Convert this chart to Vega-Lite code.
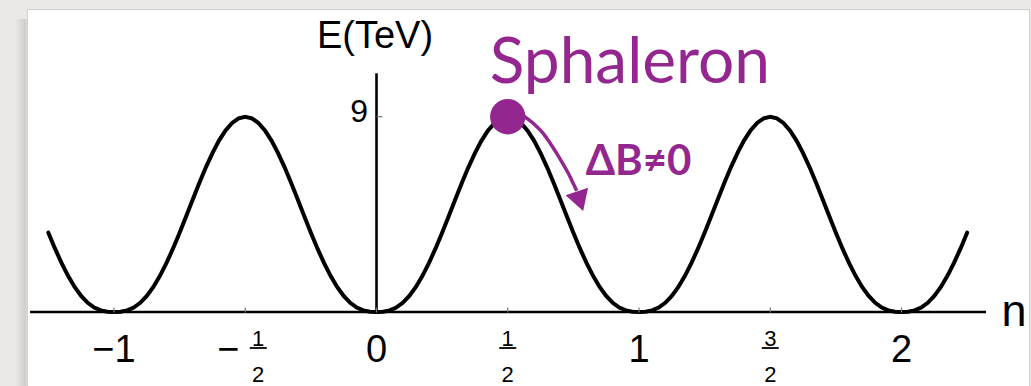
{
  "$schema": "https://vega.github.io/schema/vega-lite/v6.json",
  "width": 1002,
  "height": 377,
  "autosize": {"type": "none"},
  "padding": {"left": 27, "top": 9, "right": 2, "bottom": 0},
  "background": "#eae9e6",
  "config": {
    "view": {"fill": "white", "stroke": "#cfcfcf", "strokeWidth": 1},
    "text": {"font": "Liberation Sans", "color": "black"}
  },
  "data": {"values": [{}]},
  "datasets": {
    "curve": [
      {"n": -1.25, "E": 3.655}, {"n": -1.225, "E": 2.93}, {"n": -1.2, "E": 2.261}, {"n": -1.175, "E": 1.664},
      {"n": -1.15, "E": 1.155}, {"n": -1.125, "E": 0.741}, {"n": -1.1, "E": 0.425}, {"n": -1.075, "E": 0.205},
      {"n": -1.05, "E": 0.072}, {"n": -1.025, "E": 0.012}, {"n": -1.0, "E": 0},
      {"n": -0.975, "E": 0.012}, {"n": -0.95, "E": 0.072}, {"n": -0.925, "E": 0.205}, {"n": -0.9, "E": 0.425},
      {"n": -0.875, "E": 0.741}, {"n": -0.85, "E": 1.155}, {"n": -0.825, "E": 1.664}, {"n": -0.8, "E": 2.261},
      {"n": -0.775, "E": 2.93}, {"n": -0.75, "E": 3.655}, {"n": -0.725, "E": 4.415}, {"n": -0.7, "E": 5.187},
      {"n": -0.675, "E": 5.946}, {"n": -0.65, "E": 6.667}, {"n": -0.625, "E": 7.325}, {"n": -0.6, "E": 7.899},
      {"n": -0.575, "E": 8.368}, {"n": -0.55, "E": 8.715}, {"n": -0.525, "E": 8.928}, {"n": -0.5, "E": 9},
      {"n": -0.475, "E": 8.928}, {"n": -0.45, "E": 8.715}, {"n": -0.425, "E": 8.368}, {"n": -0.4, "E": 7.899},
      {"n": -0.375, "E": 7.325}, {"n": -0.35, "E": 6.667}, {"n": -0.325, "E": 5.946}, {"n": -0.3, "E": 5.187},
      {"n": -0.275, "E": 4.415}, {"n": -0.25, "E": 3.655}, {"n": -0.225, "E": 2.93}, {"n": -0.2, "E": 2.261},
      {"n": -0.175, "E": 1.664}, {"n": -0.15, "E": 1.155}, {"n": -0.125, "E": 0.741}, {"n": -0.1, "E": 0.425},
      {"n": -0.075, "E": 0.205}, {"n": -0.05, "E": 0.072}, {"n": -0.025, "E": 0.012}, {"n": 0.0, "E": 0},
      {"n": 0.025, "E": 0.012}, {"n": 0.05, "E": 0.072}, {"n": 0.075, "E": 0.205}, {"n": 0.1, "E": 0.425},
      {"n": 0.125, "E": 0.741}, {"n": 0.15, "E": 1.155}, {"n": 0.175, "E": 1.664}, {"n": 0.2, "E": 2.261},
      {"n": 0.225, "E": 2.93}, {"n": 0.25, "E": 3.655}, {"n": 0.275, "E": 4.415}, {"n": 0.3, "E": 5.187},
      {"n": 0.325, "E": 5.946}, {"n": 0.35, "E": 6.667}, {"n": 0.375, "E": 7.325}, {"n": 0.4, "E": 7.899},
      {"n": 0.425, "E": 8.368}, {"n": 0.45, "E": 8.715}, {"n": 0.475, "E": 8.928}, {"n": 0.5, "E": 9},
      {"n": 0.525, "E": 8.928}, {"n": 0.55, "E": 8.715}, {"n": 0.575, "E": 8.368}, {"n": 0.6, "E": 7.899},
      {"n": 0.625, "E": 7.325}, {"n": 0.65, "E": 6.667}, {"n": 0.675, "E": 5.946}, {"n": 0.7, "E": 5.187},
      {"n": 0.725, "E": 4.415}, {"n": 0.75, "E": 3.655}, {"n": 0.775, "E": 2.93}, {"n": 0.8, "E": 2.261},
      {"n": 0.825, "E": 1.664}, {"n": 0.85, "E": 1.155}, {"n": 0.875, "E": 0.741}, {"n": 0.9, "E": 0.425},
      {"n": 0.925, "E": 0.205}, {"n": 0.95, "E": 0.072}, {"n": 0.975, "E": 0.012}, {"n": 1.0, "E": 0},
      {"n": 1.025, "E": 0.012}, {"n": 1.05, "E": 0.072}, {"n": 1.075, "E": 0.205}, {"n": 1.1, "E": 0.425},
      {"n": 1.125, "E": 0.741}, {"n": 1.15, "E": 1.155}, {"n": 1.175, "E": 1.664}, {"n": 1.2, "E": 2.261},
      {"n": 1.225, "E": 2.93}, {"n": 1.25, "E": 3.655}, {"n": 1.275, "E": 4.415}, {"n": 1.3, "E": 5.187},
      {"n": 1.325, "E": 5.946}, {"n": 1.35, "E": 6.667}, {"n": 1.375, "E": 7.325}, {"n": 1.4, "E": 7.899},
      {"n": 1.425, "E": 8.368}, {"n": 1.45, "E": 8.715}, {"n": 1.475, "E": 8.928}, {"n": 1.5, "E": 9},
      {"n": 1.525, "E": 8.928}, {"n": 1.55, "E": 8.715}, {"n": 1.575, "E": 8.368}, {"n": 1.6, "E": 7.899},
      {"n": 1.625, "E": 7.325}, {"n": 1.65, "E": 6.667}, {"n": 1.675, "E": 5.946}, {"n": 1.7, "E": 5.187},
      {"n": 1.725, "E": 4.415}, {"n": 1.75, "E": 3.655}, {"n": 1.775, "E": 2.93}, {"n": 1.8, "E": 2.261},
      {"n": 1.825, "E": 1.664}, {"n": 1.85, "E": 1.155}, {"n": 1.875, "E": 0.741}, {"n": 1.9, "E": 0.425},
      {"n": 1.925, "E": 0.205}, {"n": 1.95, "E": 0.072}, {"n": 1.975, "E": 0.012}, {"n": 2.0, "E": 0},
      {"n": 2.025, "E": 0.012}, {"n": 2.05, "E": 0.072}, {"n": 2.075, "E": 0.205}, {"n": 2.1, "E": 0.425},
      {"n": 2.125, "E": 0.741}, {"n": 2.15, "E": 1.155}, {"n": 2.175, "E": 1.664}, {"n": 2.2, "E": 2.261},
      {"n": 2.225, "E": 2.93}, {"n": 2.25, "E": 3.655}
    ],
    "arrow": [
      {"n": 0.547, "E": 9.17}, {"n": 0.573, "E": 8.92}, {"n": 0.604, "E": 8.62}, {"n": 0.635, "E": 8.235},
      {"n": 0.661, "E": 7.79}, {"n": 0.6865, "E": 7.313}, {"n": 0.7086, "E": 6.866}, {"n": 0.7307, "E": 6.392},
      {"n": 0.7486, "E": 5.945}, {"n": 0.7627, "E": 5.585}
    ],
    "arrowHead": [{"n": 0.7752, "E": 5.104}],
    "sphaleron": [{"n": 0.5, "E": 9, "label": "Sphaleron", "change": "ΔB≠0"}],
    "xticks": [{"n": -1}, {"n": -0.5}, {"n": 0}, {"n": 0.5}, {"n": 1}, {"n": 1.5}, {"n": 2}],
    "intLabels": [{"n": -1, "label": "−1"}, {"n": 0, "label": "0"}, {"n": 1, "label": "1"}, {"n": 2, "label": "2"}],
    "fracLabels": [{"n": -0.5, "num": "1", "den": "2"}, {"n": 0.5, "num": "1", "den": "2"}, {"n": 1.5, "num": "3", "den": "2"}],
    "yticks": [{"E": 9, "label": "9"}]
  },
  "layer": [
    {
      "description": "soft drop shadow along the left edge of the panel",
      "mark": {"type": "rect", "fill": {"gradient": "linear", "x1": 0, "x2": 1, "y1": 0, "y2": 0,
        "stops": [{"offset": 0, "color": "rgba(0,0,0,0)"}, {"offset": 1, "color": "rgba(0,0,0,0.13)"}]}},
      "encoding": {
        "x": {"datum": -1.3771, "type": "quantitative", "axis": null},
        "x2": {"datum": -1.3333},
        "y": {"datum": 13.5, "type": "quantitative", "axis": null},
        "y2": {"datum": -3.41}
      }
    },
    {
      "data": {"name": "curve"},
      "mark": {"type": "line", "color": "black", "strokeWidth": 4, "strokeCap": "round"},
      "encoding": {
        "x": {"field": "n", "type": "quantitative", "axis": null,
              "scale": {"domain": [-1.3314, 2.4857], "nice": false, "zero": false}},
        "y": {"field": "E", "type": "quantitative", "axis": null,
              "scale": {"domain": [-3.41, 13.963], "nice": false, "zero": false}}
      }
    },
    {
      "mark": {"type": "rule", "color": "black", "strokeWidth": 2.4},
      "encoding": {
        "x": {"datum": -1.32, "type": "quantitative", "axis": null},
        "x2": {"datum": 2.3219},
        "y": {"datum": 0, "type": "quantitative", "axis": null}
      }
    },
    {
      "mark": {"type": "rule", "color": "black", "strokeWidth": 2.6},
      "encoding": {
        "x": {"datum": 0, "type": "quantitative", "axis": null},
        "y": {"datum": 0, "type": "quantitative", "axis": null},
        "y2": {"datum": 11.0}
      }
    },
    {
      "data": {"name": "xticks"},
      "mark": {"type": "tick", "orient": "vertical", "size": 5, "thickness": 1.2, "color": "#777777", "opacity": 1, "yOffset": -2},
      "encoding": {
        "x": {"field": "n", "type": "quantitative", "axis": null},
        "y": {"datum": 0, "type": "quantitative", "axis": null}
      }
    },
    {
      "data": {"name": "yticks"},
      "mark": {"type": "tick", "orient": "horizontal", "size": 6, "thickness": 1.2, "color": "#777777", "opacity": 1, "xOffset": 3},
      "encoding": {
        "x": {"datum": 0, "type": "quantitative", "axis": null},
        "y": {"field": "E", "type": "quantitative", "axis": null}
      }
    },
    {
      "data": {"name": "yticks"},
      "mark": {"type": "text", "fontSize": 32, "align": "right", "baseline": "alphabetic", "xOffset": -8.5, "yOffset": 5.5},
      "encoding": {
        "x": {"datum": 0, "type": "quantitative", "axis": null},
        "y": {"field": "E", "type": "quantitative", "axis": null},
        "text": {"field": "label"}
      }
    },
    {
      "data": {"name": "intLabels"},
      "mark": {"type": "text", "fontSize": 38, "align": "center", "baseline": "alphabetic", "yOffset": 50},
      "encoding": {
        "x": {"field": "n", "type": "quantitative", "axis": null},
        "y": {"datum": 0, "type": "quantitative", "axis": null},
        "text": {"field": "label"}
      }
    },
    {
      "data": {"name": "fracLabels"},
      "transform": [{"filter": "datum.n > 0"}],
      "layer": [
        {
          "mark": {"type": "text", "fontSize": 22, "align": "center", "baseline": "alphabetic", "yOffset": 34},
          "encoding": {"text": {"field": "num"}}
        },
        {
          "mark": {"type": "tick", "orient": "horizontal", "size": 17, "thickness": 1.8, "color": "black", "opacity": 1, "yOffset": 36}
        },
        {
          "mark": {"type": "text", "fontSize": 22, "align": "center", "baseline": "alphabetic", "yOffset": 70},
          "encoding": {"text": {"field": "den"}}
        }
      ],
      "encoding": {
        "x": {"field": "n", "type": "quantitative", "axis": null},
        "y": {"datum": 0, "type": "quantitative", "axis": null}
      }
    },
    {
      "data": {"name": "fracLabels"},
      "transform": [{"filter": "datum.n < 0"}],
      "layer": [
        {
          "mark": {"type": "text", "fontSize": 38, "align": "center", "baseline": "alphabetic", "yOffset": 50, "xOffset": -17},
          "encoding": {"text": {"value": "−"}}
        },
        {
          "mark": {"type": "text", "fontSize": 22, "align": "center", "baseline": "alphabetic", "yOffset": 34, "xOffset": 13},
          "encoding": {"text": {"field": "num"}}
        },
        {
          "mark": {"type": "tick", "orient": "horizontal", "size": 17, "thickness": 1.8, "color": "black", "opacity": 1, "yOffset": 36, "xOffset": 13}
        },
        {
          "mark": {"type": "text", "fontSize": 22, "align": "center", "baseline": "alphabetic", "yOffset": 70, "xOffset": 13},
          "encoding": {"text": {"field": "den"}}
        }
      ],
      "encoding": {
        "x": {"field": "n", "type": "quantitative", "axis": null},
        "y": {"datum": 0, "type": "quantitative", "axis": null}
      }
    },
    {
      "mark": {"type": "text", "fontSize": 38, "align": "center", "baseline": "alphabetic", "xOffset": -1.5, "yOffset": -25},
      "encoding": {
        "x": {"datum": 0, "type": "quantitative", "axis": null},
        "y": {"datum": 11.0, "type": "quantitative", "axis": null},
        "text": {"value": "E(TeV)"}
      }
    },
    {
      "mark": {"type": "text", "fontSize": 45, "align": "center", "baseline": "alphabetic", "xOffset": 28, "yOffset": 14},
      "encoding": {
        "x": {"datum": 2.3219, "type": "quantitative", "axis": null},
        "y": {"datum": 0, "type": "quantitative", "axis": null},
        "text": {"value": "n"}
      }
    },
    {
      "data": {"name": "arrow"},
      "mark": {"type": "line", "color": "#93278f", "strokeWidth": 3.5, "interpolate": "monotone"},
      "encoding": {
        "x": {"field": "n", "type": "quantitative", "axis": null},
        "y": {"field": "E", "type": "quantitative", "axis": null}
      }
    },
    {
      "data": {"name": "arrowHead"},
      "mark": {"type": "point", "shape": "triangle-down", "angle": 342, "size": 560, "filled": true, "color": "#93278f", "opacity": 1, "strokeWidth": 0},
      "encoding": {
        "x": {"field": "n", "type": "quantitative", "axis": null},
        "y": {"field": "E", "type": "quantitative", "axis": null}
      }
    },
    {
      "data": {"name": "sphaleron"},
      "layer": [
        {
          "mark": {"type": "point", "shape": "circle", "size": 1250, "filled": true, "color": "#93278f", "opacity": 1, "strokeWidth": 0}
        },
        {
          "mark": {"type": "text", "font": "Lato", "fontSize": 64, "color": "#93278f", "align": "left", "baseline": "alphabetic", "xOffset": -18, "yOffset": -33.4},
          "encoding": {"text": {"field": "label"}}
        },
        {
          "mark": {"type": "text", "font": "Lato", "fontWeight": "bold", "fontSize": 42, "color": "#93278f", "align": "left", "baseline": "alphabetic", "xOffset": 78, "yOffset": 58.5},
          "encoding": {"text": {"field": "change"}}
        }
      ],
      "encoding": {
        "x": {"field": "n", "type": "quantitative", "axis": null},
        "y": {"field": "E", "type": "quantitative", "axis": null}
      }
    }
  ]
}
